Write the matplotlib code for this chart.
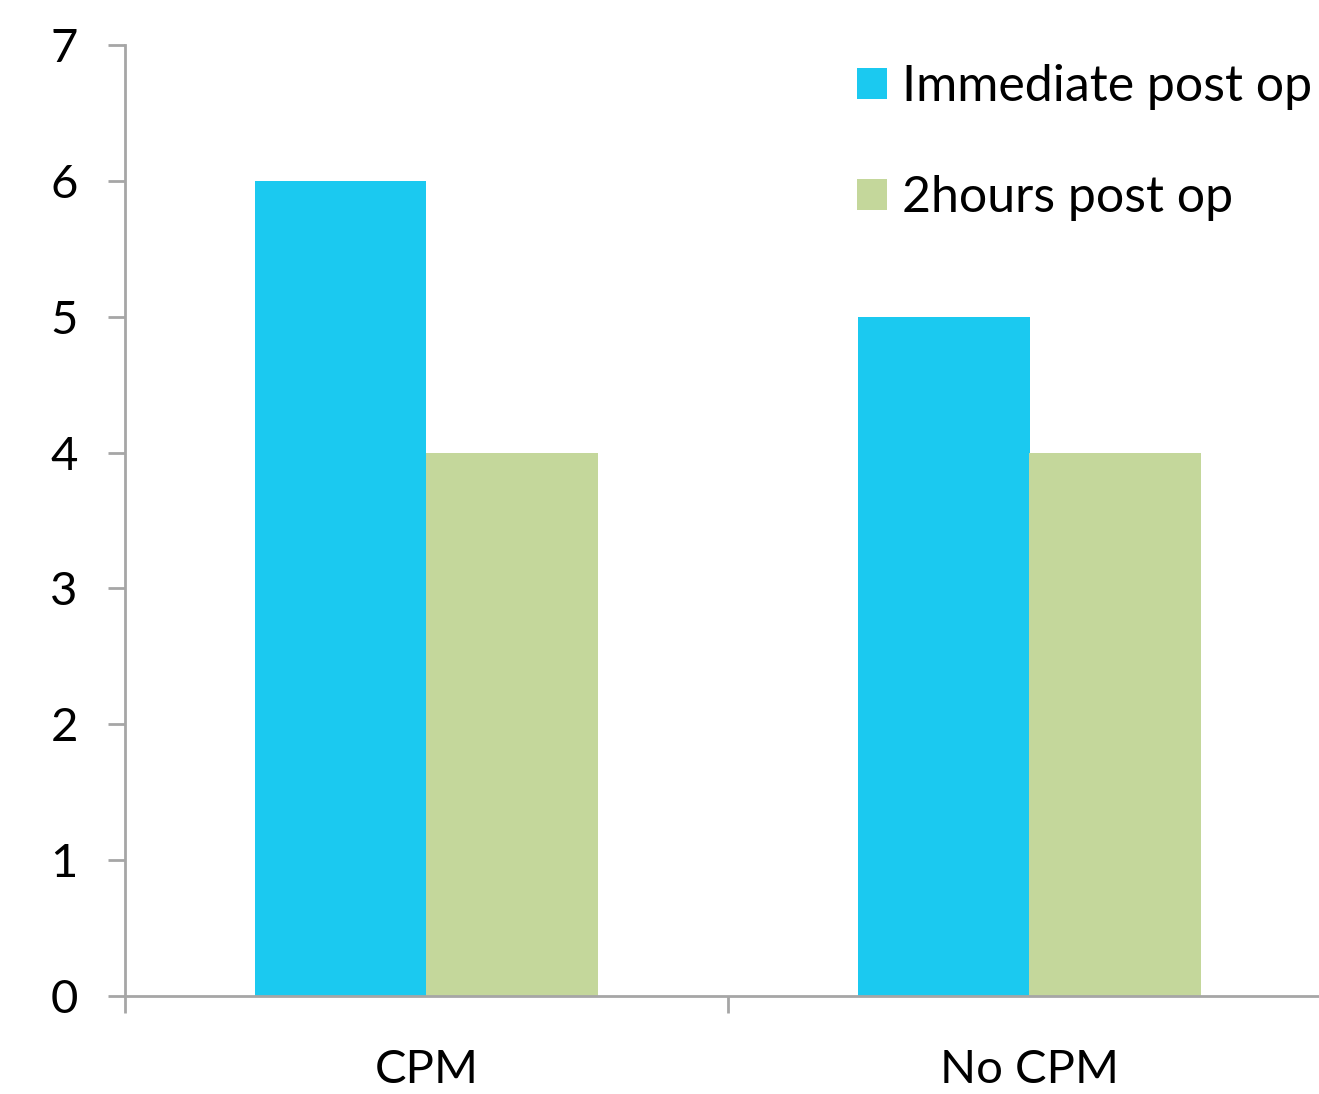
import matplotlib
matplotlib.use("Agg")
import matplotlib.pyplot as plt
import numpy as np

categories = ["CPM", "No CPM"]
series_names = ["Immediate post op", "2hours post op"]
immediate = [6, 5]
two_hours = [4, 4]
colors = ["#1BC9F0", "#C4D79B"]
yticks = [0, 1, 2, 3, 4, 5, 6, 7]

plt.rcParams["font.family"] = ["Lato", "DejaVu Sans"]

fig = plt.figure(figsize=(13.19, 10.94), dpi=100)
ax = fig.add_axes([125 / 1319, 98 / 1094, 1206 / 1319, 951 / 1094])

x = np.arange(len(categories))
w = 0.285
ax.bar(x - w / 2, immediate, width=w, color=colors[0], label=series_names[0])
ax.bar(x + w / 2, two_hours, width=w, color=colors[1], label=series_names[1])

ax.set_xlim(-0.5, len(categories) - 0.5)
ax.set_ylim(0, 7)
ax.set_yticks(yticks)
ax.set_xticks(x)
ax.set_xticklabels(categories)
ax.set_xticks(np.arange(len(categories) + 1) - 0.5, minor=True)

axis_color = "#A6A6A6"
for side in ["top", "right"]:
    ax.spines[side].set_visible(False)
for side in ["left", "bottom"]:
    ax.spines[side].set_color(axis_color)
    ax.spines[side].set_linewidth(2)
    ax.spines[side].set_clip_on(False)

ax.tick_params(axis="y", length=12, width=2, color=axis_color, pad=22,
               labelsize=34, labelcolor="black")
ax.tick_params(axis="x", which="major", length=0, pad=38,
               labelsize=34, labelcolor="black")
ax.tick_params(axis="x", which="minor", length=12, width=2, color=axis_color)

fs = 36
ax.legend(loc="upper left", bbox_to_anchor=(857 / 1319, 1 - 64 / 1094),
          bbox_transform=fig.transFigure, frameon=False, fontsize=fs,
          handlelength=0.6, handleheight=0.6, handletextpad=0.3,
          labelspacing=1.3, borderpad=0, borderaxespad=0)

fig.savefig("out.png", dpi=100, facecolor="white")
